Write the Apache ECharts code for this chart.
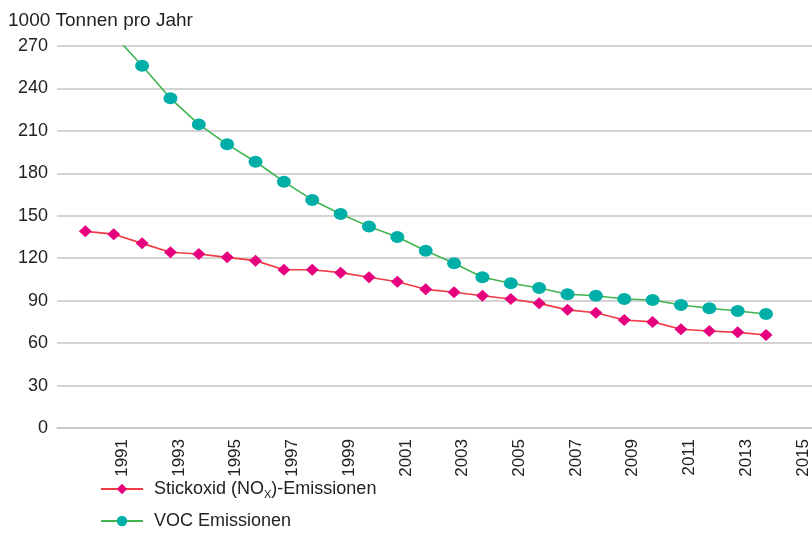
<!DOCTYPE html>
<html>
<head>
<meta charset="utf-8">
<script src="https://cdn.jsdelivr.net/npm/echarts@6/dist/echarts.min.js"></script>
<style>
html,body{margin:0;padding:0;background:#fff;}
#chart{width:812px;height:556px;}
</style>
</head>
<body>
<div id="chart"></div>
<script>
// Data
const years = [1990,1991,1992,1993,1994,1995,1996,1997,1998,1999,2000,2001,2002,2003,2004,2005,2006,2007,2008,2009,2010,2011,2012,2013,2014];
const noxValues = [139,137,130.5,124.2,123,120.6,118.3,111.8,111.8,109.8,106.5,103.4,98,95.9,93.5,91.2,88.1,83.5,81.5,76.3,75,69.8,68.6,67.6,65.7];
const vocValues = [298,278,256,233,214.6,200.5,188.2,174.1,161.2,151.3,142.5,135,125.3,116.4,106.5,102.3,99,94.5,93.5,91.2,90.5,86.9,84.6,82.7,80.6];
const yTicks = {min:0, max:270, interval:30};
const seriesNames = ['Stickoxid (NOx)-Emissionen','VOC Emissionen'];
const unitLabel = '1000 Tonnen pro Jahr';

const pair = (vals) => years.map((y,i) => [y, vals[i]]);

const chart = echarts.init(document.getElementById('chart'), null, {renderer:'canvas'});
const FONT = '"Liberation Sans", Arial, Helvetica, sans-serif';
chart.setOption({
  animation:false,
  backgroundColor:'#ffffff',
  title:{
    text:unitLabel, left:3, top:6,
    textStyle:{fontFamily:FONT, fontSize:19, fontWeight:'normal', color:'#222'}
  },
  grid:{left:57, right:0, top:46, bottom:128, containLabel:false},
  xAxis:{
    type:'value', min:1989, max:2015.62, interval:2,
    axisLine:{show:true, lineStyle:{color:'#c4c4c4', width:1.5}},
    axisTick:{show:false},
    splitLine:{show:false},
    axisLabel:{
      rotate:90, margin:11, verticalAlign:'top',
      fontFamily:FONT, fontSize:17, color:'#222',
      formatter:(v)=> (Number.isInteger(v) && v>1989) ? String(v) : ''
    }
  },
  yAxis:{
    type:'value', min:yTicks.min, max:yTicks.max, interval:yTicks.interval,
    axisLine:{show:false}, axisTick:{show:false},
    splitLine:{lineStyle:{color:'#c4c4c4', width:1.5}},
    axisLabel:{fontFamily:FONT, fontSize:18, color:'#222', margin:9}
  },
  legend:{
    orient:'vertical', left:95, top:473, itemGap:10,
    itemWidth:42, itemHeight:13,
    data:seriesNames,
    formatter:(name)=> name==='Stickoxid (NOx)-Emissionen' ? 'Stickoxid (NO{sub|X})-Emissionen' : name,
    textStyle:{
      fontFamily:FONT, fontSize:18, color:'#222', lineHeight:22, padding:[0,0,0,6],
      rich:{sub:{fontFamily:FONT, fontSize:11, color:'#222', verticalAlign:'bottom', lineHeight:14, padding:[8,0,0,0]}}
    }
  },
  series:[
    {
      name:seriesNames[0], type:'line', data:pair(noxValues),
      symbol:'diamond', symbolSize:[13,12], clip:true,
      lineStyle:{color:'#f03a45', width:1.6},
      itemStyle:{color:'#e6007e'}
    },
    {
      name:seriesNames[1], type:'line', data:pair(vocValues),
      symbol:'circle', symbolSize:[14,12], clip:true,
      lineStyle:{color:'#3fb54f', width:1.6},
      itemStyle:{color:'#00aea8'}
    }
  ]
});
</script>
</body>
</html>
